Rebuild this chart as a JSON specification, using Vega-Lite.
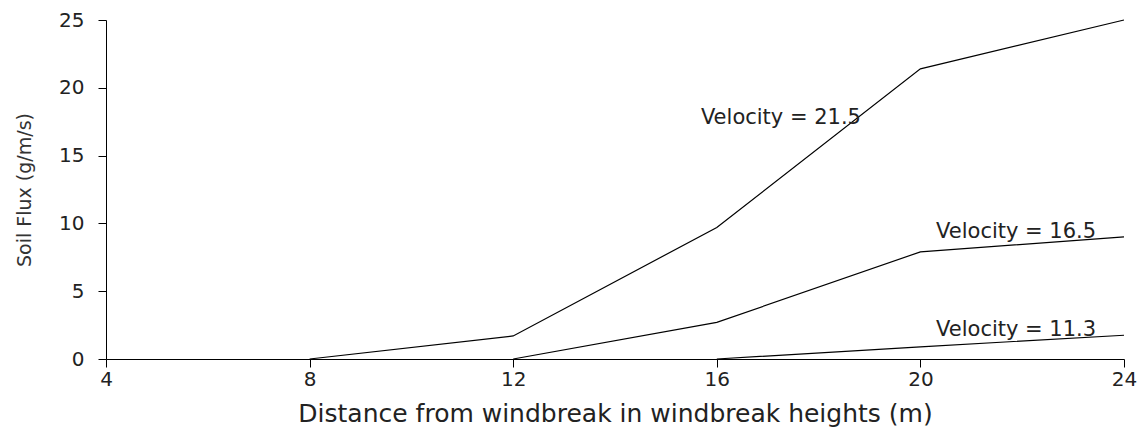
{
  "$schema": "https://vega.github.io/schema/vega-lite/v6.json",
  "width": 1018,
  "height": 339,
  "autosize": {"type": "none"},
  "padding": {"left": 106, "top": 20, "right": 17, "bottom": 68},
  "background": "white",
  "config": {
    "view": {"stroke": null},
    "font": "DejaVu Sans"
  },
  "datasets": {
    "lines": [
      {"series": "Velocity = 21.5", "distance": 8, "flux": 0},
      {"series": "Velocity = 21.5", "distance": 12, "flux": 1.7},
      {"series": "Velocity = 21.5", "distance": 16, "flux": 9.7},
      {"series": "Velocity = 21.5", "distance": 20, "flux": 21.4},
      {"series": "Velocity = 21.5", "distance": 24, "flux": 25},
      {"series": "Velocity = 16.5", "distance": 12, "flux": 0},
      {"series": "Velocity = 16.5", "distance": 16, "flux": 2.7},
      {"series": "Velocity = 16.5", "distance": 20, "flux": 7.9},
      {"series": "Velocity = 16.5", "distance": 24, "flux": 9.0},
      {"series": "Velocity = 11.3", "distance": 16, "flux": 0},
      {"series": "Velocity = 11.3", "distance": 20, "flux": 0.9},
      {"series": "Velocity = 11.3", "distance": 24, "flux": 1.75}
    ],
    "labels": [
      {"label": "Velocity = 21.5", "distance": 17.26, "flux": 17.8},
      {"label": "Velocity = 16.5", "distance": 21.88, "flux": 9.4},
      {"label": "Velocity = 11.3", "distance": 21.88, "flux": 2.15}
    ]
  },
  "layer": [
    {
      "data": {"name": "lines"},
      "mark": {"type": "line", "color": "black", "strokeWidth": 1.2},
      "encoding": {
        "x": {
          "field": "distance", "type": "quantitative",
          "scale": {"domain": [4, 24], "nice": false, "zero": false},
          "axis": {
            "values": [4, 8, 12, 16, 20, 24],
            "title": "Distance from windbreak in windbreak heights (m)",
            "grid": false,
            "domainColor": "black", "tickColor": "black", "tickSize": 8,
            "labelFontSize": 20, "labelColor": "#222", "labelPadding": 2,
            "labelFont": "DejaVu Sans", "labelFlush": false,
            "titleFont": "DejaVu Sans", "titleFontSize": 25, "titleFontWeight": "normal",
            "titleColor": "#222", "titlePadding": 12
          }
        },
        "y": {
          "field": "flux", "type": "quantitative",
          "scale": {"domain": [0, 25], "nice": false},
          "axis": {
            "values": [0, 5, 10, 15, 20, 25],
            "title": "Soil Flux (g/m/s)",
            "grid": false,
            "domainColor": "black", "tickColor": "black", "tickSize": 8,
            "labelFontSize": 20, "labelColor": "#222", "labelPadding": 14,
            "labelFont": "DejaVu Sans",
            "titleFont": "DejaVu Sans", "titleFontSize": 19, "titleFontWeight": "normal",
            "titleColor": "#333", "titlePadding": 24
          }
        },
        "detail": {"field": "series", "type": "nominal"}
      }
    },
    {
      "data": {"name": "labels"},
      "mark": {"type": "text", "fontSize": 21, "color": "#222", "align": "center", "baseline": "middle", "font": "DejaVu Sans"},
      "encoding": {
        "x": {"field": "distance", "type": "quantitative"},
        "y": {"field": "flux", "type": "quantitative"},
        "text": {"field": "label"}
      }
    }
  ]
}
